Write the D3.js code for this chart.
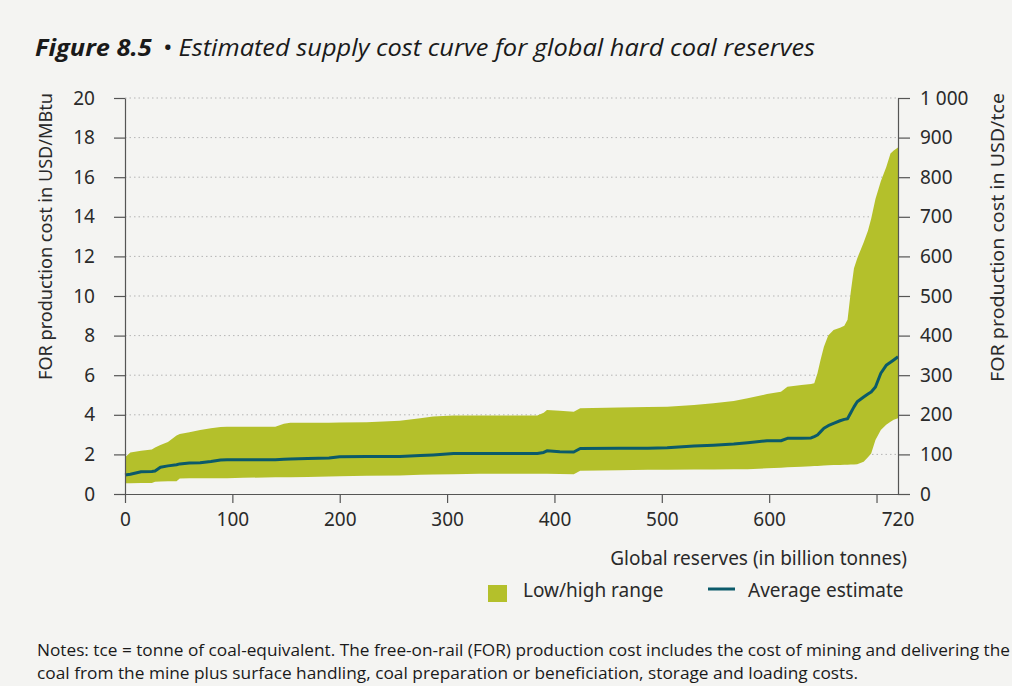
<!DOCTYPE html>
<html><head><meta charset="utf-8">
<script src="https://cdn.jsdelivr.net/npm/d3@7"></script>
<style>
html,body{margin:0;padding:0;background:#f4f4f2;}
svg{display:block;}
</style></head>
<body>
<script>
// ---- data ----
const reserves = [0,5,15,25,28,33,40,48,51,60,70,80,89,95,110,140,148,154,170,190,200,225,256,275,287,306,330,350,384,390,393,405,418,424,460,487,505,530,548,567,580,598,611,617,630,639,642,645,648,651,655,660,666,670,673,676,679,682,688,692,695,699,704,709,713,716,720];
const avgCost  = [0.96,1.0,1.12,1.14,1.16,1.35,1.42,1.48,1.52,1.56,1.58,1.64,1.72,1.73,1.73,1.73,1.75,1.77,1.79,1.82,1.88,1.89,1.90,1.94,1.97,2.04,2.04,2.05,2.05,2.10,2.18,2.14,2.12,2.30,2.31,2.31,2.33,2.42,2.46,2.52,2.59,2.69,2.69,2.81,2.81,2.83,2.90,2.98,3.15,3.32,3.45,3.57,3.70,3.77,3.80,4.10,4.40,4.66,4.90,5.05,5.15,5.40,6.10,6.50,6.65,6.77,6.93];
const lowCost  = [0.54,0.54,0.55,0.56,0.62,0.63,0.64,0.65,0.78,0.79,0.79,0.80,0.80,0.80,0.82,0.84,0.84,0.85,0.86,0.88,0.90,0.92,0.94,0.97,0.99,1.0,1.02,1.02,1.02,1.02,1.02,1.01,1.00,1.18,1.20,1.22,1.23,1.24,1.24,1.25,1.25,1.30,1.33,1.35,1.38,1.40,1.41,1.42,1.43,1.44,1.45,1.46,1.47,1.48,1.48,1.49,1.49,1.50,1.63,1.85,2.05,2.73,3.23,3.50,3.65,3.75,3.82];
const highCost = [1.85,2.10,2.18,2.25,2.35,2.47,2.62,2.95,3.03,3.12,3.23,3.32,3.38,3.40,3.40,3.40,3.55,3.60,3.60,3.60,3.61,3.62,3.70,3.82,3.92,3.97,3.97,3.97,3.97,4.10,4.24,4.20,4.16,4.33,4.37,4.40,4.41,4.50,4.58,4.70,4.83,5.05,5.17,5.42,5.50,5.56,5.59,6.10,6.80,7.44,8.00,8.28,8.40,8.50,8.80,10.20,11.40,11.90,12.70,13.30,13.90,14.90,15.80,16.50,17.20,17.35,17.50];
const xTicks = [0,100,200,300,400,500,600,700];
const xTickLabels = ["0","100","200","300","400","500","600",""];
const xEndLabel = "720";
const yLeftTicks = [0,2,4,6,8,10,12,14,16,18,20];
const yRightTicks = [0,100,200,300,400,500,600,700,800,900,1000];
const yRightLabels = ["0","100","200","300","400","500","600","700","800","900","1 000"];
const titleBold = "Figure 8.5";
const titleRest = "•  Estimated supply cost curve for global hard coal reserves";
const leftTitle = "FOR production cost in USD/MBtu";
const rightTitle = "FOR production cost in USD/tce";
const xTitle = "Global reserves (in billion tonnes)";
const legendLabels = ["Low/high range","Average estimate"];
const notes = ["Notes: tce = tonne of coal-equivalent. The free-on-rail (FOR) production cost includes the cost of mining and delivering the",
               "coal from the mine plus surface handling, coal preparation or beneficiation, storage and loading costs."];

// ---- layout ----
const W = 1012, H = 686;
const L = 125, R = 898, T = 98, B = 494;
const bandColor = "#b4c02b", lineColor = "#0b5a6a", axisColor = "#555", textColor = "#2a2a2a";
const tickFont = "'Noto Sans', sans-serif";

const svg = d3.select("body").append("svg").attr("width", W).attr("height", H);

const x = d3.scaleLinear().domain([0,720]).range([L,R]);
const y = d3.scaleLinear().domain([0,20]).range([B,T]);
const y2 = d3.scaleLinear().domain([0,1000]).range([B,T]);

const rows = reserves.map((r,i)=>({r, lo:lowCost[i], hi:highCost[i], av:avgCost[i]}));

// gridlines
svg.append("g").selectAll("line").data(yLeftTicks.filter(d=>d>0)).join("line")
  .attr("x1", L).attr("x2", R).attr("y1", d=>y(d)).attr("y2", d=>y(d))
  .attr("stroke", "#b5b5b5").attr("stroke-width", 1).attr("stroke-dasharray", "1.5,3");

// band
svg.append("path").datum(rows)
  .attr("d", d3.area().x(d=>x(d.r)).y0(d=>y(d.lo)).y1(d=>y(d.hi)))
  .attr("fill", bandColor);

// avg line
svg.append("path").datum(rows)
  .attr("d", d3.line().x(d=>x(d.r)).y(d=>y(d.av)))
  .attr("fill", "none").attr("stroke", lineColor).attr("stroke-width", 3).attr("stroke-linejoin","round");

// axes
const gl = svg.append("g").attr("transform", `translate(${L},0)`)
  .call(d3.axisLeft(y).tickValues(yLeftTicks).tickSize(11).tickPadding(19).tickSizeOuter(0));
const gr = svg.append("g").attr("transform", `translate(${R},0)`)
  .call(d3.axisRight(y2).tickValues(yRightTicks).tickSize(12).tickPadding(10).tickSizeOuter(0)
        .tickFormat((d,i)=>yRightLabels[i]));
const gb = svg.append("g").attr("transform", `translate(0,${B})`)
  .call(d3.axisBottom(x).tickValues(xTicks).tickSize(9).tickPadding(10).tickSizeOuter(0)
        .tickFormat((d,i)=>xTickLabels[i]));
[gl,gr,gb].forEach(g=>{
  g.select(".domain").attr("stroke", axisColor).attr("stroke-width", 1.2);
  g.selectAll(".tick line").attr("stroke", axisColor).attr("stroke-width", 1.2);
  g.selectAll(".tick text").attr("fill", textColor).style("font-family", tickFont).style("font-size", "19px");
});
gb.append("text").attr("x", R).attr("y", 9+10).attr("dy","0.71em").attr("text-anchor","middle")
  .attr("fill",textColor).style("font-family", tickFont).style("font-size","19px").text(xEndLabel);

// axis titles
svg.append("text").attr("transform", `translate(52,93) rotate(-90)`).attr("text-anchor","end")
  .attr("textLength", 287).attr("lengthAdjust","spacingAndGlyphs")
  .attr("fill",textColor).style("font-family", tickFont).style("font-size","18px").text(leftTitle);
svg.append("text").attr("transform", `translate(1004,93) rotate(-90)`).attr("text-anchor","end")
  .attr("textLength", 289).attr("lengthAdjust","spacingAndGlyphs")
  .attr("fill",textColor).style("font-family", tickFont).style("font-size","18.5px").text(rightTitle);
svg.append("text").attr("x", 907).attr("y", 565).attr("text-anchor","end")
  .attr("fill",textColor).style("font-family", tickFont).style("font-size","19px").text(xTitle);

// legend
svg.append("rect").attr("x",488).attr("y",585).attr("width",19).attr("height",17).attr("fill",bandColor);
svg.append("text").attr("x",523).attr("y",597).attr("fill",textColor)
  .style("font-family", tickFont).style("font-size","19px").text(legendLabels[0]);
svg.append("line").attr("x1",708).attr("x2",735).attr("y1",589).attr("y2",589)
  .attr("stroke",lineColor).attr("stroke-width",3);
svg.append("text").attr("x",748).attr("y",597).attr("fill",textColor)
  .style("font-family", tickFont).style("font-size","19px").text(legendLabels[1]);

// title
const t = svg.append("text").attr("x",35).attr("y",56).attr("fill","#1a1a1a")
  .style("font-family","'Open Sans', sans-serif").style("font-size","24px").style("font-style","italic");
t.append("tspan").style("font-weight","bold").text(titleBold);
t.append("tspan").attr("dx", 10).text(titleRest);
t.attr("textLength", 780).attr("lengthAdjust","spacingAndGlyphs");

// notes
notes.forEach((s,i)=>{
  const n = svg.append("text").attr("x",37).attr("y",656+i*23).attr("fill","#1a1a1a")
    .style("font-family","'Open Sans', sans-serif").style("font-size","15.5px").text(s);
  const target = i===0 ? 973 : 821;
  n.attr("textLength", target).attr("lengthAdjust","spacingAndGlyphs");
});
</script>
</body></html>
